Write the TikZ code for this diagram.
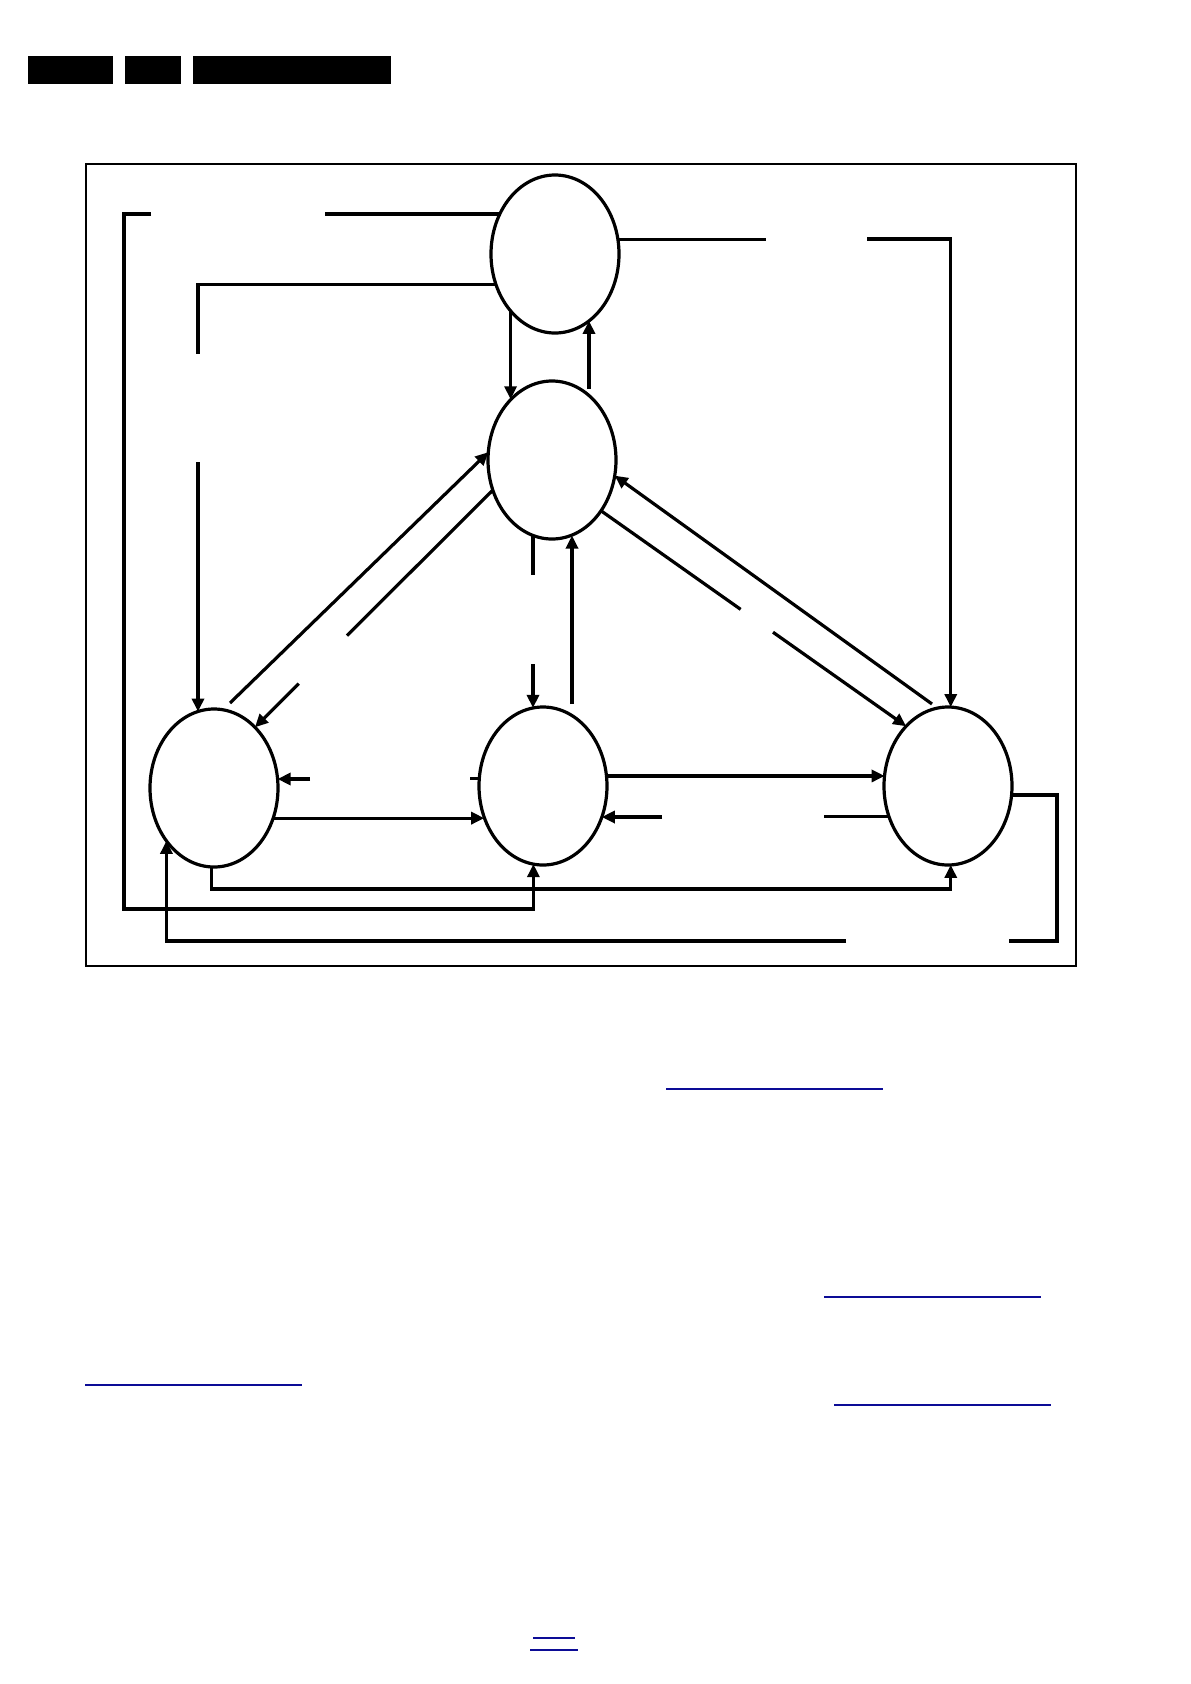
\documentclass[tikz,border=0pt]{standalone}
\usetikzlibrary{arrows.meta, shapes.geometric, calc}

\definecolor{linkblue}{RGB}{12,12,150}

\tikzset{
  state/.style={draw, ellipse, line width=3.2pt, minimum width=128pt, minimum height=158pt, inner sep=0pt, outer sep=0pt},
  route/.style={line width=3.2pt},
  frame/.style={line width=2pt},
  link/.style={draw=linkblue, line width=2pt}
}

\begin{document}
\begin{tikzpicture}[x=1pt, y=-1pt, >={Triangle[length=13pt,width=12pt]}]
\useasboundingbox (0,0) rectangle (1191,1684);

% black header bars at the top of the page
\fill (28,56) rectangle (113,84);
\fill (125,56) rectangle (181,84);
\fill (193,56) rectangle (391,84);

% frame round the state diagram
\draw[frame] (86,164) rectangle (1076,966);

% the five states
\node[state] (T) at (555,254) {};
\node[state] (M) at (552,460) {};
\node[state] (L) at (214,788) {};
\node[state] (C) at (543,786) {};
\node[state] (R) at (948,786) {};

% outer route from top state round the left to the centre state
\coordinate (aR) at (325,214);
\coordinate (aL) at (151,214);
\draw[route] (T.144) -- (T.144 -| aR);
\draw[route,->] (aL) -| (124,909) -| (C.263);

% inner route from top state down to the left state
\coordinate (bU) at (198,354);
\coordinate (bD) at (198,462);
\draw[route] (T.207) -| (bU);
\draw[route,->] (bD) -- (bD |- L.102);

% top <-> middle
\coordinate (cU) at (589,389);
\draw[route,->] (T.232.5) -- (T.232.5 |- M.124);
\draw[route,->] (cU) -- (cU |- T.297);

% route from top state round the right to the right state
\coordinate (dL) at (766,239);
\coordinate (dR) at (867,239);
\draw[route] (T.13.4) -- (T.13.4 -| dL);
\draw[route,->] (dR) -| (R.88);

% left <-> middle, the lower one has a gap
\coordinate (eA) at (230,703);
\draw[route,->] (eA) -- (M.173);
\draw[route] (M.207.6) -- ($(M.207.6)!0.613!(L.56)$);
\draw[route,->] ($(M.207.6)!0.816!(L.56)$) -- (L.56);

% right <-> middle
\coordinate (fA) at (932,704);
\draw[route,->] (fA) -- (M.346);
\draw[route] (M.314.4) -- ($(M.314.4)!0.4575!(R.125.6)$);
\draw[route,->] ($(M.314.4)!0.5636!(R.125.6)$) -- (R.125.6);

% middle <-> centre
\coordinate (gA) at (533,575);
\coordinate (gB) at (533,664);
\coordinate (gC) at (572,704);
\draw[route] (M.256 -| gA) -- (gA);
\draw[route,->] (gB) -- (gB |- C.97);
\draw[route,->] (gC) -- (gC |- M.284);

% left <-> centre
\coordinate (hA) at (470,779);
\coordinate (hB) at (310,779);
\draw[route] (C.173.7) -- (C.173.7 -| hA);
\draw[route,->] (hB) -- (hB -| L.8);
\draw[route,->] (L.333) -- (L.333 -| C.208.7);

% centre <-> right
\coordinate (iA) at (824,817);
\coordinate (iB) at (662,817);
\draw[route,->] (C.9.8) -- (C.9.8 -| R.170.2);
\draw[route] (R.207.8) -- (R.207.8 -| iA);
\draw[route,->] (iB) -- (iB -| C.332.2);

% from left state under the others to the right state
\coordinate (rowJ) at (0,889);
\draw[route,->] (L.268.5) -- (L.268.5 |- rowJ) -| (R.272);

% from right state round the bottom back to the left state
\coordinate (kC) at (1057,941);
\coordinate (kA) at (1009,941);
\coordinate (kB) at (846,941);
\draw[route] (R.352) -| (kC) -- (kA);
\draw[route,->] (kB) -| (L.228);

% blue link underlines in the text below
\draw[link] (666,1089) -- (883,1089);
\draw[link] (824,1297) -- (1041,1297);
\draw[link] (85,1385) -- (302,1385);
\draw[link] (834,1405) -- (1051,1405);
\draw[link] (533,1638) -- (575,1638);
\draw[link] (530,1650) -- (578,1650);

\end{tikzpicture}
\end{document}
